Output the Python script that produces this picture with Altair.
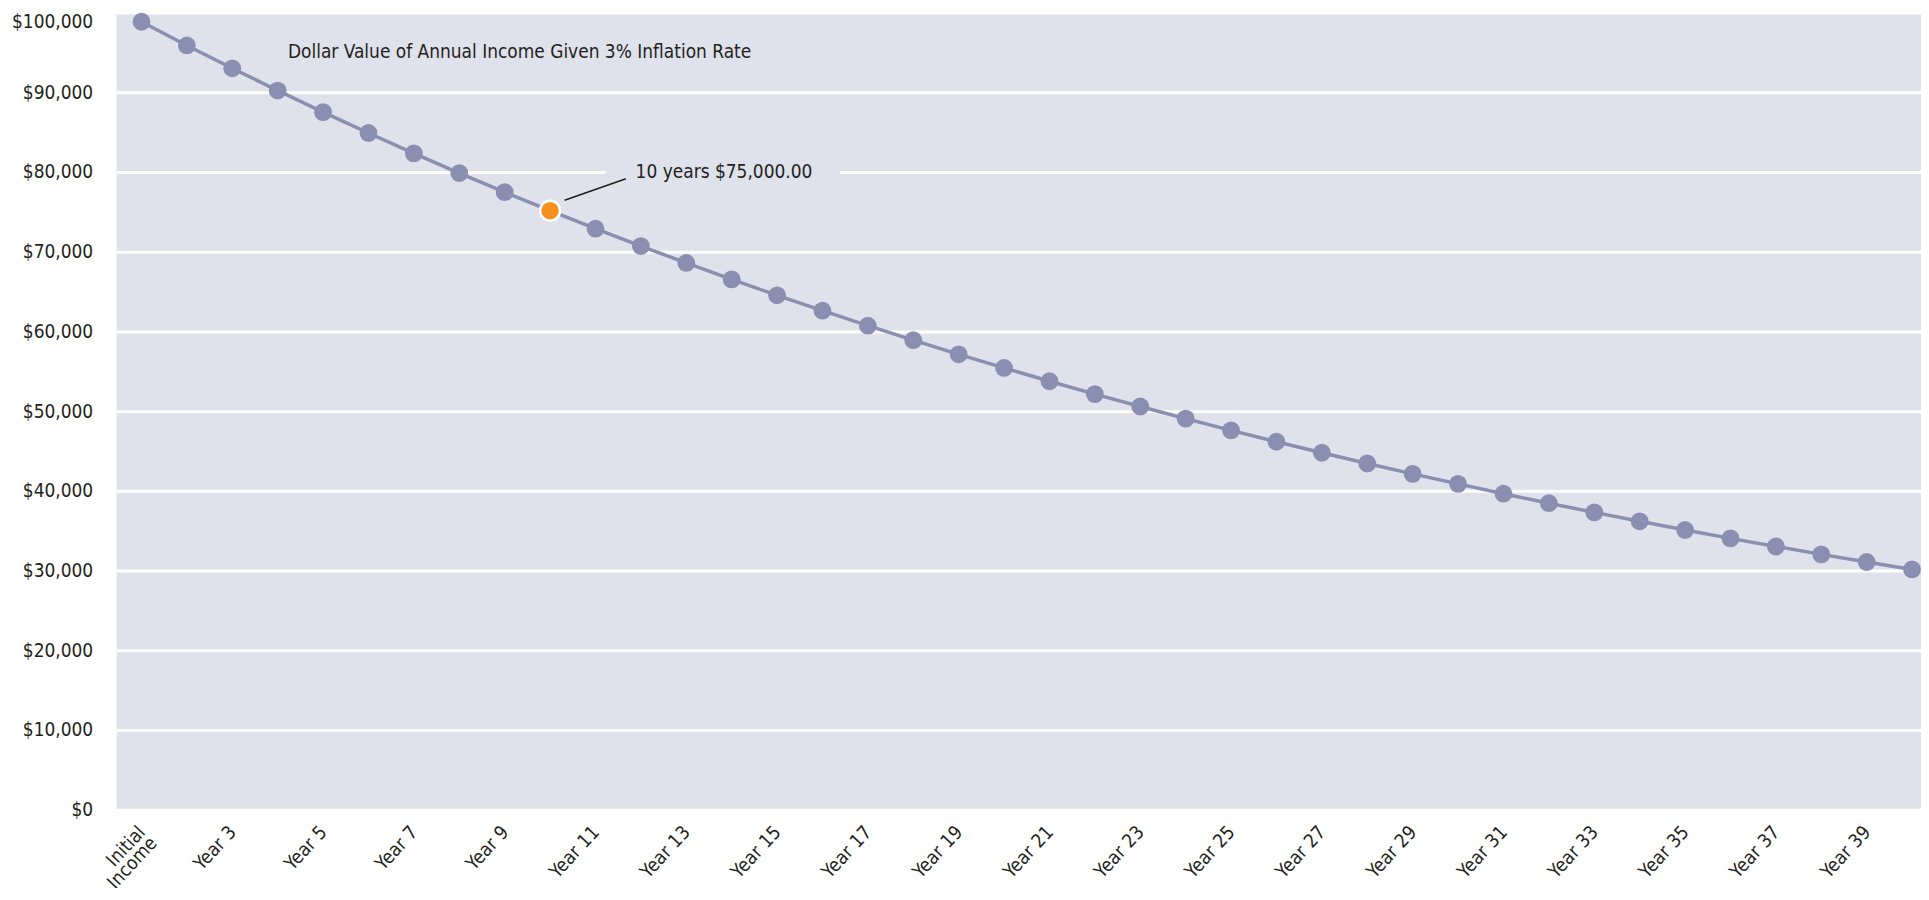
import json
import altair as alt
import pandas as pd

# ---- data ----
categories = [
    "Initial Income", "Year 2", "Year 3", "Year 4", "Year 5", "Year 6", "Year 7", "Year 8",
    "Year 9", "Year 10", "Year 11", "Year 12", "Year 13", "Year 14", "Year 15", "Year 16",
    "Year 17", "Year 18", "Year 19", "Year 20", "Year 21", "Year 22", "Year 23", "Year 24",
    "Year 25", "Year 26", "Year 27", "Year 28", "Year 29", "Year 30", "Year 31", "Year 32",
    "Year 33", "Year 34", "Year 35", "Year 36", "Year 37", "Year 38", "Year 39", "Year 40",
]
values = [
    98850, 95880, 93010, 90220, 87510, 84890, 82340, 79870, 77470, 75150,
    72890, 70710, 68590, 66530, 64530, 62600, 60720, 58900, 57130, 55420,
    53750, 52140, 50580, 49060, 47590, 46160, 44780, 43430, 42130, 40870,
    39640, 38450, 37300, 36180, 35090, 34040, 33020, 32030, 31070, 30140,
]
highlight = ["Year 10"]
shown_ticks = [0, 2, 4, 6, 8, 10, 12, 14, 16, 18, 20, 22, 24, 26, 28, 30, 32, 34, 36, 38]
y_ticks = [0, 10000, 20000, 30000, 40000, 50000, 60000, 70000, 80000, 90000, 100000]

title_text = "Dollar Value of Annual Income Given 3% Inflation Rate"
note_text = "10 years $75,000.00"

# ---- styling ----
FONT = "DejaVu Sans Condensed, Liberation Sans Narrow, sans-serif"
TXT = "#231F20"
BG = "#DFE2EB"
SERIES = "#8A8EB0"
ORANGE = "#F7901E"

df = pd.DataFrame({"idx": list(range(len(categories))), "label": categories, "value": values})
df["hl"] = df["label"].isin(highlight)

label_expr = (
    f"datum.value == 0 ? split({json.dumps(categories[0])}, ' ') : "
    f"{json.dumps(categories)}[datum.value]"
)

x_enc = alt.X(
    "idx:Q",
    scale=alt.Scale(domain=[-0.548, 39.197], nice=False, zero=False),
    axis=alt.Axis(
        values=shown_ticks, labelExpr=label_expr, labelAngle=-47, labelAlign="right",
        labelBaseline="middle", labelOffset=0, labelPadding=19, ticks=False, domain=False,
        grid=False, labelFontSize=19, labelFont=FONT, labelColor=TXT, title=None,
        labelLineHeight=16, labelOverlap=False, labelBound=False, labelFlush=False,
    ),
)
y_enc = alt.Y(
    "value:Q",
    scale=alt.Scale(domain=[0, 100000], nice=False),
    axis=alt.Axis(
        values=y_ticks, format="$,.0f", grid=True, gridColor="white", gridWidth=3,
        ticks=False, domain=False, labelPadding=24, labelFontSize=19, labelFont=FONT,
        labelColor=TXT, title=None,
        labelBaseline=alt.condition("datum.value >= 100000", alt.value("top"), alt.value("middle")),
    ),
)

base = alt.Chart(df)
line = base.mark_line(color=SERIES, strokeWidth=3.5).encode(x=x_enc, y=y_enc)
pts = base.mark_circle(color=SERIES, size=320, opacity=1).encode(x="idx:Q", y="value:Q")
hl_pt = base.transform_filter("datum.hl").mark_point(
    shape="circle", filled=True, fill=ORANGE, stroke="white", strokeWidth=2.5, size=400, opacity=1
).encode(x="idx:Q", y="value:Q")

note_df = pd.DataFrame({
    "bx": [10.226], "bx2": [15.383], "by": [82000], "by2": [78000],
    "lx": [9.32], "lx2": [10.67], "ly": [76460], "ly2": [79160],
    "tx": [10.884], "ty": [80000], "text": [note_text],
})
note_box = alt.Chart(note_df).mark_rect(color=BG).encode(x="bx:Q", x2="bx2", y="by:Q", y2="by2")
note_line = alt.Chart(note_df).mark_rule(color=TXT, strokeWidth=1.5).encode(
    x="lx:Q", x2="lx2", y="ly:Q", y2="ly2"
)
note_txt = alt.Chart(note_df).mark_text(
    align="left", baseline="middle", font=FONT, fontSize=19, color=TXT
).encode(x="tx:Q", y="ty:Q", text="text:N")

title_df = pd.DataFrame({"tx": [3.226], "ty": [95100], "text": [title_text]})
title_mark = alt.Chart(title_df).mark_text(
    align="left", baseline="middle", font=FONT, fontSize=19, color=TXT
).encode(x="tx:Q", y="ty:Q", text="text:N")

chart = alt.layer(line, note_box, note_line, pts, hl_pt, note_txt, title_mark).properties(
    width=1811, height=800,
    padding={"left": 109, "top": 3, "right": 0, "bottom": 77},
    autosize="none",
    background="white",
).configure_view(fill=BG, strokeWidth=0)

chart.save("out.html", embed_options={"renderer": "svg", "actions": False})
